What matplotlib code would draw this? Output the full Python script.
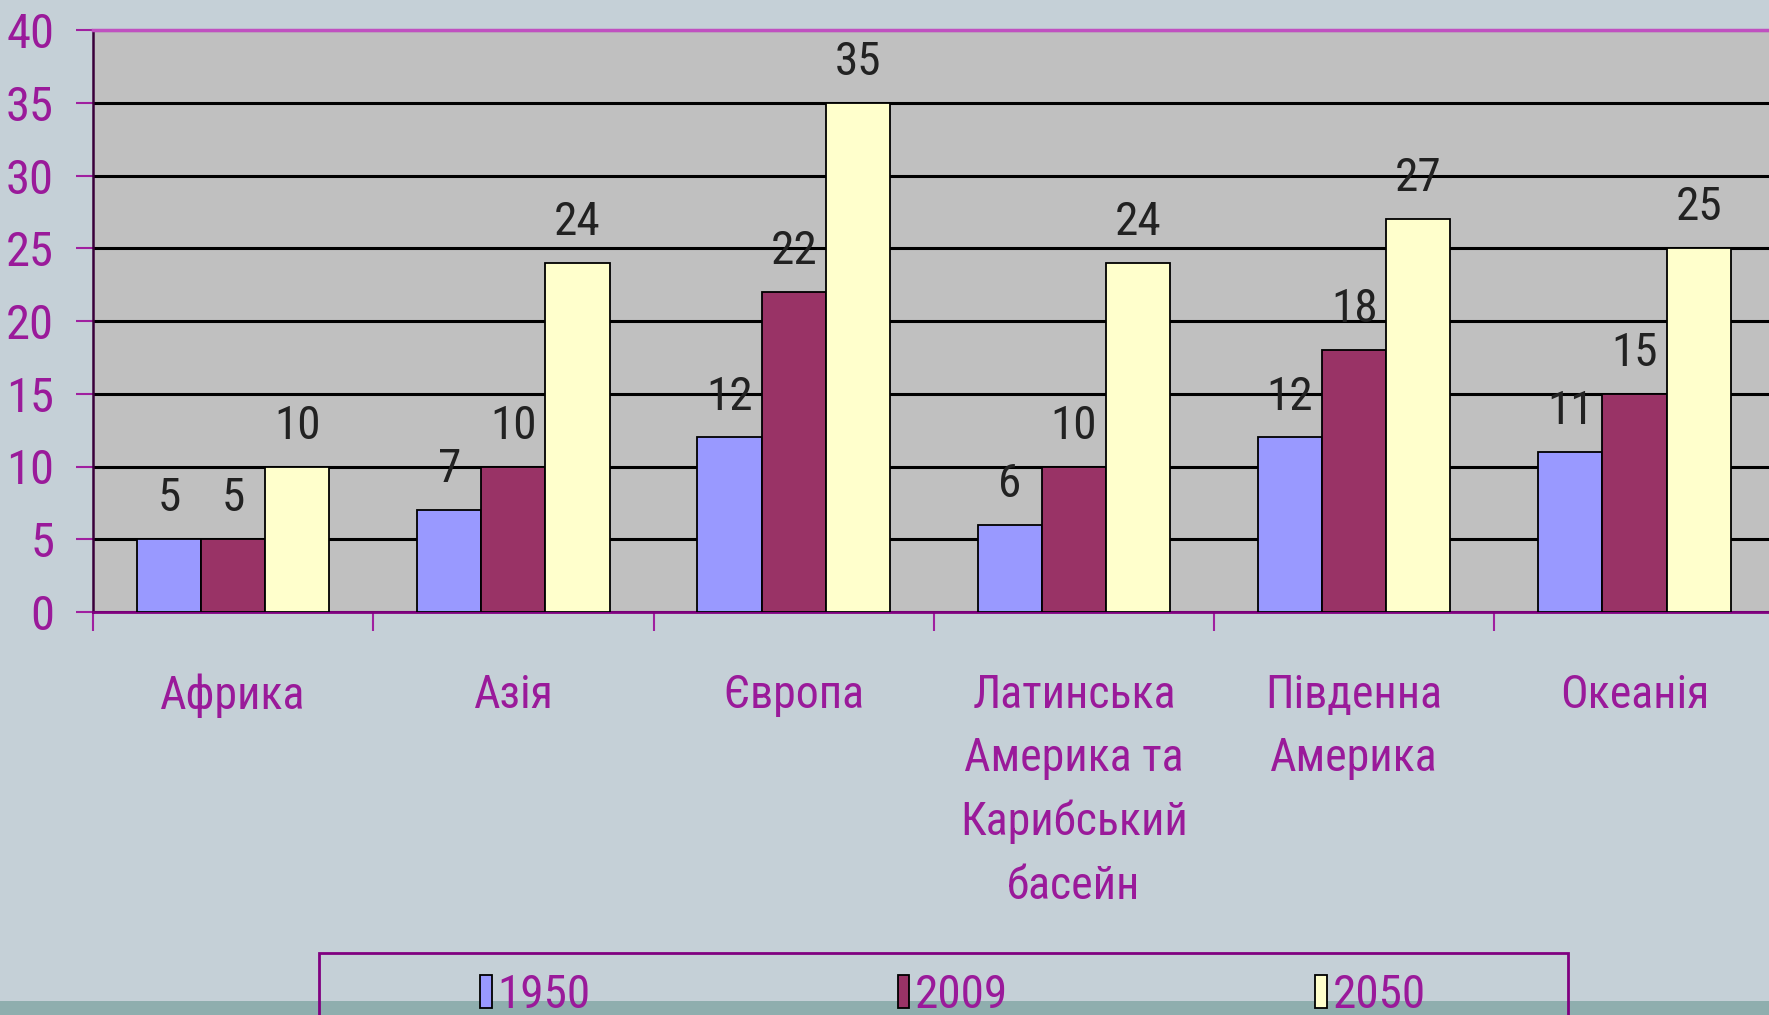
import numpy as np
import matplotlib
matplotlib.use('Agg')
import matplotlib.pyplot as plt
from matplotlib.patches import Rectangle

regions = ['Африка', 'Азія', 'Європа', 'Латинська\nАмерика та\nКарибський\nбасейн',
           'Південна\nАмерика', 'Океанія']
years = ['1950', '2009', '2050']
vals_1950 = [5, 7, 12, 6, 12, 11]
vals_2009 = [5, 10, 22, 10, 18, 15]
vals_2050 = [10, 24, 35, 24, 27, 25]
yticks = [0, 5, 10, 15, 20, 25, 30, 35, 40]

bar_colors = ['#9999FF', '#993366', '#FFFFCC']
purple = '#9A1A9A'
W, H = 1769, 1015

plt.rcParams['font.family'] = ['Roboto Condensed', 'Liberation Sans', 'DejaVu Sans']

fig = plt.figure(figsize=(W / 100, H / 100), dpi=100, facecolor='#C5D0D7')
ax = fig.add_axes([93 / W, (H - 612) / H, 1690 / W, 582 / H])
ax.set_facecolor('#C0C0C0')

x = np.arange(len(regions))
bw = 0.229
bars = []
for k, (vals, col) in enumerate(zip([vals_1950, vals_2009, vals_2050], bar_colors)):
    b = ax.bar(x + (k - 1) * bw, vals, bw, color=col, edgecolor='black', linewidth=1.3,
               zorder=3, label=years[k])
    bars.append(b)
    for xi, v in zip(x + (k - 1) * bw, vals):
        ax.annotate(str(v), (xi, v), xytext=(0, 20), textcoords='offset points',
                    ha='center', va='baseline', fontsize=34, color='#222222', zorder=4)

ax.set_xlim(-0.5, 5.5 + 0.03)
ax.set_ylim(0, 40)
ax.set_yticks(yticks)
ax.yaxis.grid(True, color='black', linewidth=2.2, zorder=1)
ax.set_axisbelow(True)
ax.tick_params(axis='y', length=12, width=1.5, color='#A020A0', labelcolor=purple,
               labelsize=35, pad=16)

ax.set_xticks(x)
ax.set_xticklabels(regions, color=purple, fontsize=33, linespacing=1.55)
ax.tick_params(axis='x', length=0, pad=44)
ax.set_xticks(np.arange(-0.5, 6, 1), minor=True)
ax.tick_params(axis='x', which='minor', length=14, width=1.5, color='#A020A0')

ax.spines['top'].set_color('#C050C0')
ax.spines['top'].set_linewidth(2.5)
ax.spines['left'].set_color('#3A003A')
ax.spines['left'].set_linewidth(1.8)
ax.spines['bottom'].set_color('#800080')
ax.spines['bottom'].set_linewidth(2)
ax.spines['right'].set_visible(False)

# bottom strip of the slide
fig.patches.append(Rectangle((0, 0), 1, 14 / H, transform=fig.transFigure,
                             facecolor='#8FAEAE', edgecolor='none', zorder=0))
# legend frame, running off the bottom of the picture
fig.patches.append(Rectangle((319 / W, -0.05), 1249 / W, (H - 953) / H + 0.05,
                             transform=fig.transFigure, fill=False,
                             edgecolor='#800080', linewidth=2, zorder=1))

leg = fig.legend(handles=bars, labels=years, loc='center', ncol=3,
                 bbox_to_anchor=(953 / W, 0.02), frameon=False, borderpad=0,
                 fontsize=34, handlelength=0.25, handleheight=0.7, handletextpad=0.12,
                 columnspacing=6.5, labelcolor=purple)

fig.savefig('out.png', dpi=100, facecolor=fig.get_facecolor())
